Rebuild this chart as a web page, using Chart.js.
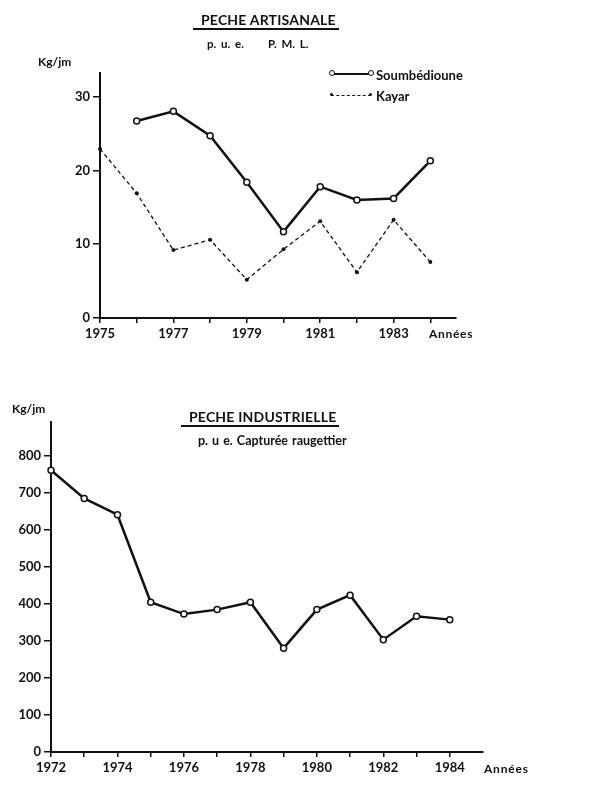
<!DOCTYPE html>
<html>
<head>
<meta charset="utf-8">
<script src="https://cdn.jsdelivr.net/npm/chart.js@4/dist/chart.umd.min.js"></script>
<style>
  body { margin: 0; background: #fff; width: 600px; height: 796px; position: relative; overflow: hidden;
         font-family: Lato, "DejaVu Sans", sans-serif; font-weight: bold; color: #111; }
  .box { position: absolute; left: 0; width: 600px; }
  .txt { position: absolute; white-space: nowrap; line-height: 1; }
  .titre { font-size: 14px; letter-spacing: 0.2px; border-bottom: 2px solid #111; padding: 0 3px 1px 8px; }
  .sous { font-size: 11px; word-spacing: 2px; }
  .leg { position: absolute; font-size: 13px; white-space: nowrap; }
  .trait { position: absolute; left: 0; top: 6px; width: 40px; border-top: 2px solid #111; }
  .trait.tir { border-top: 1.5px dashed #111; top: 7px; }
  .pt { position: absolute; width: 4px; height: 4px; border: 1.5px solid #111; border-radius: 50%; background: #fff; top: 3px; }
  .pt.plein { background: #111; width: 3px; height: 3px; top: 5px; border-width: 0; }
</style>
</head>
<body>

<div class="box" style="top:0;height:360px"><canvas id="artisanale"></canvas></div>
<div class="box" style="top:380px;height:416px"><canvas id="industrielle"></canvas></div>

<!-- textes du graphique du haut -->
<div class="txt titre" style="left:193px;top:13px">PECHE ARTISANALE</div>
<div class="txt sous" style="left:207px;top:38px;font-size:11.5px">p. u. e.&nbsp;&nbsp;&nbsp;&nbsp; P. M. L.</div>
<div class="txt" style="left:38px;top:56px;font-size:12px">Kg/jm</div>
<div class="leg" style="left:331px;top:67px">
  <span class="trait"></span><span class="pt" style="left:-2px"></span><span class="pt" style="left:37px"></span>
  <span style="margin-left:45px">Soumbédioune</span>
</div>
<div class="leg" style="left:331px;top:88px">
  <span class="trait tir"></span><span class="pt plein" style="left:-1px"></span><span class="pt plein" style="left:38px"></span>
  <span style="margin-left:45px">Kayar</span>
</div>
<div class="txt" style="left:429px;top:328px;font-size:12px;letter-spacing:0.7px">Années</div>

<!-- textes du graphique du bas -->
<div class="txt titre" style="left:181px;top:410px">PECHE INDUSTRIELLE</div>
<div class="txt sous" style="left:198px;top:435px;font-size:12.5px;word-spacing:1px">p. u e. Capturée raugettier</div>
<div class="txt" style="left:12px;top:403px;font-size:12px">Kg/jm</div>
<div class="txt" style="left:484px;top:763px;font-size:12px;letter-spacing:0.8px">Années</div>

<script>
// Données
var anneesArt = [1975, 1976, 1977, 1978, 1979, 1980, 1981, 1982, 1983, 1984];
var soumbedioune = [null, 26.7, 28.0, 24.7, 18.4, 11.7, 17.8, 16.0, 16.2, 21.3];
var kayar = [22.9, 16.9, 9.2, 10.6, 5.2, 9.3, 13.1, 6.2, 13.3, 7.6];

var anneesInd = [1972, 1973, 1974, 1975, 1976, 1977, 1978, 1979, 1980, 1981, 1982, 1983, 1984];
var rougetier = [760, 684, 640, 404, 372, 384, 404, 280, 384, 423, 303, 366, 357];

var ticksArtY = [0, 10, 20, 30];
var ticksIndY = [0, 100, 200, 300, 400, 500, 600, 700, 800];

var noir = '#111';
var police = { family: 'Lato, "DejaVu Sans", sans-serif', size: 13, weight: 'bold' };

function points(xs, ys) {
    return xs.map(function (x, i) { return { x: x, y: ys[i] }; });
}

function axeX(min, max, anneeMax, pas) {
    return {
        type: 'linear', min: min, max: max,
        afterBuildTicks: function (s) {
            s.ticks = [];
            for (var a = min; a <= anneeMax; a++) s.ticks.push({ value: a });
        },
        afterFit: function (s) { s.height = s.chart.height - s.chart._basBas; },
        ticks: {
            color: noir, font: police, padding: 3, autoSkip: false, maxRotation: 0,
            callback: function (v) { return ((v - min) % pas === 0 && v <= anneeMax - (pas === 2 && min % 2 === 1 ? 1 : 0)) ? String(v) : ''; }
        },
        grid: { drawOnChartArea: false, drawTicks: true, tickLength: 5, color: noir, lineWidth: 1.5 },
        border: { display: true, color: noir, width: 2 }
    };
}

function axeY(max, valeurs, largeur) {
    return {
        min: 0, max: max,
        afterBuildTicks: function (s) {
            s.ticks = valeurs.map(function (v) { return { value: v }; });
        },
        afterFit: function (s) { s.width = largeur; },
        ticks: { color: noir, font: police, padding: 3, callback: function (v) { return String(v); } },
        grid: { drawOnChartArea: false, drawTicks: true, tickLength: 7, color: noir, lineWidth: 1.5 },
        border: { display: true, color: noir, width: 2 }
    };
}

function baseOptions(padding) {
    return {
        responsive: true,
        maintainAspectRatio: false,
        animation: false,
        layout: { padding: padding },
        plugins: { legend: { display: false }, tooltip: { enabled: false }, title: { display: false } }
    };
}

// Pêche artisanale
var optArt = baseOptions({ left: 0, right: 144, top: 73, bottom: 0 });
optArt.scales = {
    x: axeX(1975, 1984.7, 1984, 2),
    y: axeY(33.2, ticksArtY, 100)
};
var chartArt = new Chart(document.getElementById('artisanale'), {
    type: 'line',
    data: {
        datasets: [{
            label: 'Soumbédioune',
            data: points(anneesArt, soumbedioune),
            borderColor: noir, borderWidth: 2.5,
            pointRadius: 3, pointBorderWidth: 1.5,
            pointBackgroundColor: '#fff', pointBorderColor: noir,
            tension: 0, clip: false
        }, {
            label: 'Kayar',
            data: points(anneesArt, kayar),
            borderColor: noir, borderWidth: 1.3, borderDash: [4, 3],
            pointRadius: 2, pointBorderWidth: 0,
            pointBackgroundColor: noir,
            tension: 0, clip: false
        }]
    },
    options: optArt,
    plugins: [{ id: 'bas', beforeInit: function (c) { c._basBas = 318; } }]
});

// Pêche industrielle
var optInd = baseOptions({ left: 0, right: 117, top: 42, bottom: 0 });
optInd.scales = {
    x: axeX(1972, 1985, 1984, 2),
    y: axeY(890, ticksIndY, 51)
};
var chartInd = new Chart(document.getElementById('industrielle'), {
    type: 'line',
    data: {
        datasets: [{
            label: 'p.u.e. Capturée raugettier',
            data: points(anneesInd, rougetier),
            borderColor: noir, borderWidth: 2.5,
            pointRadius: 3, pointBorderWidth: 1.5,
            pointBackgroundColor: '#fff', pointBorderColor: noir,
            tension: 0, clip: false
        }]
    },
    options: optInd,
    plugins: [{ id: 'bas', beforeInit: function (c) { c._basBas = 372; } }]
});
</script>
</body>
</html>
